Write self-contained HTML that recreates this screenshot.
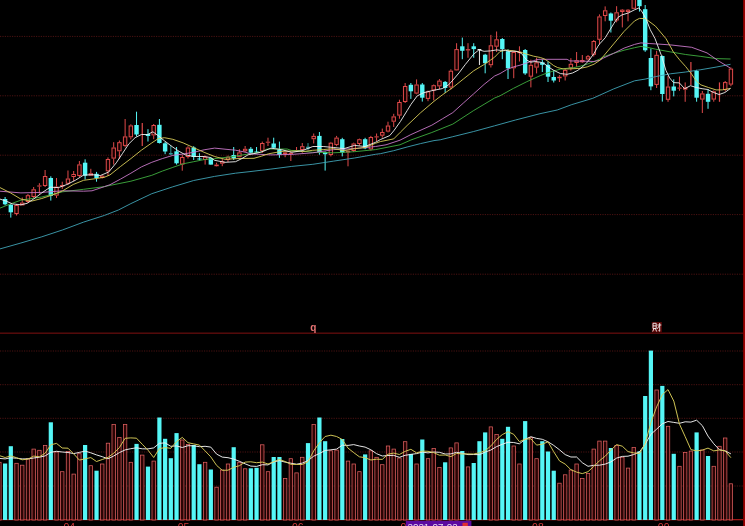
<!DOCTYPE html>
<html><head><meta charset="utf-8"><title>K-line chart</title>
<style>html,body{margin:0;padding:0;background:#000;overflow:hidden}svg{display:block;filter:blur(0.42px)}body{font-family:"Liberation Sans",sans-serif}</style>
</head><body>
<svg width="745" height="526" viewBox="0 0 745 526">
<rect width="745" height="526" fill="#000"/>
<line x1="0" y1="36.4" x2="743" y2="36.4" stroke="#7a1e1e" stroke-width="1" stroke-dasharray="1.2 1.2" opacity="0.62"/>
<line x1="0" y1="95.8" x2="743" y2="95.8" stroke="#7a1e1e" stroke-width="1" stroke-dasharray="1.2 1.2" opacity="0.62"/>
<line x1="0" y1="155.2" x2="743" y2="155.2" stroke="#7a1e1e" stroke-width="1" stroke-dasharray="1.2 1.2" opacity="0.62"/>
<line x1="0" y1="214.6" x2="743" y2="214.6" stroke="#7a1e1e" stroke-width="1" stroke-dasharray="1.2 1.2" opacity="0.62"/>
<line x1="0" y1="274.2" x2="743" y2="274.2" stroke="#7a1e1e" stroke-width="1" stroke-dasharray="1.2 1.2" opacity="0.62"/>
<line x1="0" y1="351" x2="743" y2="351" stroke="#7a1e1e" stroke-width="1" stroke-dasharray="1.2 1.2" opacity="0.62"/>
<line x1="0" y1="384.7" x2="743" y2="384.7" stroke="#7a1e1e" stroke-width="1" stroke-dasharray="1.2 1.2" opacity="0.62"/>
<line x1="0" y1="418.3" x2="743" y2="418.3" stroke="#7a1e1e" stroke-width="1" stroke-dasharray="1.2 1.2" opacity="0.62"/>
<line x1="0" y1="452" x2="743" y2="452" stroke="#7a1e1e" stroke-width="1" stroke-dasharray="1.2 1.2" opacity="0.62"/>
<line x1="0" y1="486" x2="743" y2="486" stroke="#7a1e1e" stroke-width="1" stroke-dasharray="1.2 1.2" opacity="0.62"/>
<rect x="0" y="332.5" width="743" height="1.4" fill="#5c0c0c"/>
<rect x="0" y="519" width="743" height="1.3" fill="#a01818"/>
<rect x="743.2" y="0" width="1.8" height="526" fill="#980000"/>
<rect x="-2.31" y="462.3" width="3.4" height="57.7" fill="#2a0404" stroke="#e06060" stroke-width="0.75"/>
<rect x="3.00" y="463.5" width="4.2" height="56.5" fill="#55f6f6"/>
<rect x="8.71" y="446.2" width="4.2" height="73.8" fill="#55f6f6"/>
<rect x="14.83" y="463.3" width="3.4" height="56.7" fill="#2a0404" stroke="#e06060" stroke-width="0.75"/>
<rect x="20.55" y="465.2" width="3.4" height="54.8" fill="#2a0404" stroke="#e06060" stroke-width="0.75"/>
<rect x="26.26" y="458.7" width="3.4" height="61.3" fill="#2a0404" stroke="#e06060" stroke-width="0.75"/>
<rect x="31.97" y="449.1" width="3.4" height="70.9" fill="#2a0404" stroke="#e06060" stroke-width="0.75"/>
<rect x="37.69" y="450.3" width="3.4" height="69.7" fill="#2a0404" stroke="#e06060" stroke-width="0.75"/>
<rect x="43.40" y="445.5" width="3.4" height="74.5" fill="#2a0404" stroke="#e06060" stroke-width="0.75"/>
<rect x="48.72" y="422.3" width="4.2" height="97.7" fill="#55f6f6"/>
<rect x="54.83" y="452.0" width="3.4" height="68.0" fill="#2a0404" stroke="#e06060" stroke-width="0.75"/>
<rect x="60.55" y="471.7" width="3.4" height="48.3" fill="#2a0404" stroke="#e06060" stroke-width="0.75"/>
<rect x="66.27" y="451.5" width="3.4" height="68.5" fill="#2a0404" stroke="#e06060" stroke-width="0.75"/>
<rect x="71.98" y="474.1" width="3.4" height="45.9" fill="#2a0404" stroke="#e06060" stroke-width="0.75"/>
<rect x="77.69" y="453.7" width="3.4" height="66.3" fill="#2a0404" stroke="#e06060" stroke-width="0.75"/>
<rect x="83.01" y="445.0" width="4.2" height="75.0" fill="#55f6f6"/>
<rect x="89.12" y="465.7" width="3.4" height="54.3" fill="#2a0404" stroke="#e06060" stroke-width="0.75"/>
<rect x="94.44" y="470.7" width="4.2" height="49.3" fill="#55f6f6"/>
<rect x="100.56" y="464.0" width="3.4" height="56.0" fill="#2a0404" stroke="#e06060" stroke-width="0.75"/>
<rect x="106.27" y="443.2" width="3.4" height="76.8" fill="#2a0404" stroke="#e06060" stroke-width="0.75"/>
<rect x="111.98" y="424.5" width="3.4" height="95.5" fill="#2a0404" stroke="#e06060" stroke-width="0.75"/>
<rect x="117.70" y="437.6" width="3.4" height="82.4" fill="#2a0404" stroke="#e06060" stroke-width="0.75"/>
<rect x="123.41" y="424.5" width="3.4" height="95.5" fill="#2a0404" stroke="#e06060" stroke-width="0.75"/>
<rect x="129.13" y="462.3" width="3.4" height="57.7" fill="#2a0404" stroke="#e06060" stroke-width="0.75"/>
<rect x="134.44" y="443.9" width="4.2" height="76.1" fill="#55f6f6"/>
<rect x="140.56" y="455.1" width="3.4" height="64.9" fill="#2a0404" stroke="#e06060" stroke-width="0.75"/>
<rect x="145.88" y="466.6" width="4.2" height="53.4" fill="#55f6f6"/>
<rect x="151.99" y="461.1" width="3.4" height="58.9" fill="#2a0404" stroke="#e06060" stroke-width="0.75"/>
<rect x="157.30" y="417.5" width="4.2" height="102.5" fill="#55f6f6"/>
<rect x="163.02" y="438.8" width="4.2" height="81.2" fill="#55f6f6"/>
<rect x="168.73" y="458.2" width="4.2" height="61.8" fill="#55f6f6"/>
<rect x="174.45" y="433.1" width="4.2" height="86.9" fill="#55f6f6"/>
<rect x="180.56" y="440.0" width="3.4" height="80.0" fill="#2a0404" stroke="#e06060" stroke-width="0.75"/>
<rect x="186.28" y="444.4" width="3.4" height="75.6" fill="#2a0404" stroke="#e06060" stroke-width="0.75"/>
<rect x="191.59" y="445.0" width="4.2" height="75.0" fill="#55f6f6"/>
<rect x="197.31" y="464.2" width="4.2" height="55.8" fill="#55f6f6"/>
<rect x="203.43" y="462.3" width="3.4" height="57.7" fill="#2a0404" stroke="#e06060" stroke-width="0.75"/>
<rect x="208.74" y="469.5" width="4.2" height="50.5" fill="#55f6f6"/>
<rect x="214.85" y="487.2" width="3.4" height="32.8" fill="#2a0404" stroke="#e06060" stroke-width="0.75"/>
<rect x="220.57" y="470.0" width="3.4" height="50.0" fill="#2a0404" stroke="#e06060" stroke-width="0.75"/>
<rect x="226.28" y="464.0" width="3.4" height="56.0" fill="#2a0404" stroke="#e06060" stroke-width="0.75"/>
<rect x="231.60" y="447.2" width="4.2" height="72.8" fill="#55f6f6"/>
<rect x="237.72" y="462.3" width="3.4" height="57.7" fill="#2a0404" stroke="#e06060" stroke-width="0.75"/>
<rect x="243.43" y="468.8" width="3.4" height="51.2" fill="#2a0404" stroke="#e06060" stroke-width="0.75"/>
<rect x="248.74" y="468.3" width="4.2" height="51.7" fill="#55f6f6"/>
<rect x="254.46" y="467.8" width="4.2" height="52.2" fill="#55f6f6"/>
<rect x="260.57" y="444.8" width="3.4" height="75.2" fill="#2a0404" stroke="#e06060" stroke-width="0.75"/>
<rect x="266.29" y="471.7" width="3.4" height="48.3" fill="#2a0404" stroke="#e06060" stroke-width="0.75"/>
<rect x="271.60" y="457.0" width="4.2" height="63.0" fill="#55f6f6"/>
<rect x="277.32" y="457.0" width="4.2" height="63.0" fill="#55f6f6"/>
<rect x="283.44" y="478.4" width="3.4" height="41.6" fill="#2a0404" stroke="#e06060" stroke-width="0.75"/>
<rect x="289.15" y="458.7" width="3.4" height="61.3" fill="#2a0404" stroke="#e06060" stroke-width="0.75"/>
<rect x="294.87" y="472.9" width="3.4" height="47.1" fill="#2a0404" stroke="#e06060" stroke-width="0.75"/>
<rect x="300.58" y="457.3" width="3.4" height="62.7" fill="#2a0404" stroke="#e06060" stroke-width="0.75"/>
<rect x="305.89" y="443.1" width="4.2" height="76.9" fill="#55f6f6"/>
<rect x="312.01" y="424.5" width="3.4" height="95.5" fill="#2a0404" stroke="#e06060" stroke-width="0.75"/>
<rect x="317.32" y="417.5" width="4.2" height="102.5" fill="#55f6f6"/>
<rect x="323.04" y="441.2" width="4.2" height="78.8" fill="#55f6f6"/>
<rect x="329.15" y="450.8" width="3.4" height="69.2" fill="#2a0404" stroke="#e06060" stroke-width="0.75"/>
<rect x="334.87" y="450.1" width="3.4" height="69.9" fill="#2a0404" stroke="#e06060" stroke-width="0.75"/>
<rect x="340.18" y="439.0" width="4.2" height="81.0" fill="#55f6f6"/>
<rect x="346.30" y="461.1" width="3.4" height="58.9" fill="#2a0404" stroke="#e06060" stroke-width="0.75"/>
<rect x="352.01" y="464.0" width="3.4" height="56.0" fill="#2a0404" stroke="#e06060" stroke-width="0.75"/>
<rect x="357.73" y="471.7" width="3.4" height="48.3" fill="#2a0404" stroke="#e06060" stroke-width="0.75"/>
<rect x="363.04" y="454.4" width="4.2" height="65.6" fill="#55f6f6"/>
<rect x="369.16" y="450.8" width="3.4" height="69.2" fill="#2a0404" stroke="#e06060" stroke-width="0.75"/>
<rect x="374.88" y="457.3" width="3.4" height="62.7" fill="#2a0404" stroke="#e06060" stroke-width="0.75"/>
<rect x="380.59" y="464.7" width="3.4" height="55.3" fill="#2a0404" stroke="#e06060" stroke-width="0.75"/>
<rect x="386.31" y="446.0" width="3.4" height="74.0" fill="#2a0404" stroke="#e06060" stroke-width="0.75"/>
<rect x="392.02" y="449.1" width="3.4" height="70.9" fill="#2a0404" stroke="#e06060" stroke-width="0.75"/>
<rect x="397.74" y="458.0" width="3.4" height="62.0" fill="#2a0404" stroke="#e06060" stroke-width="0.75"/>
<rect x="403.45" y="441.7" width="3.4" height="78.3" fill="#2a0404" stroke="#e06060" stroke-width="0.75"/>
<rect x="408.76" y="453.9" width="4.2" height="66.1" fill="#55f6f6"/>
<rect x="414.88" y="464.0" width="3.4" height="56.0" fill="#2a0404" stroke="#e06060" stroke-width="0.75"/>
<rect x="420.19" y="439.5" width="4.2" height="80.5" fill="#55f6f6"/>
<rect x="426.31" y="458.7" width="3.4" height="61.3" fill="#2a0404" stroke="#e06060" stroke-width="0.75"/>
<rect x="432.02" y="448.4" width="3.4" height="71.6" fill="#2a0404" stroke="#e06060" stroke-width="0.75"/>
<rect x="437.74" y="467.6" width="3.4" height="52.4" fill="#2a0404" stroke="#e06060" stroke-width="0.75"/>
<rect x="443.05" y="462.3" width="4.2" height="57.7" fill="#55f6f6"/>
<rect x="449.17" y="447.9" width="3.4" height="72.1" fill="#2a0404" stroke="#e06060" stroke-width="0.75"/>
<rect x="454.88" y="442.9" width="3.4" height="77.1" fill="#2a0404" stroke="#e06060" stroke-width="0.75"/>
<rect x="460.20" y="451.0" width="4.2" height="69.0" fill="#55f6f6"/>
<rect x="466.31" y="466.9" width="3.4" height="53.1" fill="#2a0404" stroke="#e06060" stroke-width="0.75"/>
<rect x="471.63" y="463.0" width="4.2" height="57.0" fill="#55f6f6"/>
<rect x="477.34" y="441.2" width="4.2" height="78.8" fill="#55f6f6"/>
<rect x="483.06" y="432.4" width="4.2" height="87.6" fill="#55f6f6"/>
<rect x="489.18" y="426.9" width="3.4" height="93.1" fill="#2a0404" stroke="#e06060" stroke-width="0.75"/>
<rect x="494.89" y="434.5" width="3.4" height="85.5" fill="#2a0404" stroke="#e06060" stroke-width="0.75"/>
<rect x="500.20" y="438.8" width="4.2" height="81.2" fill="#55f6f6"/>
<rect x="505.92" y="426.8" width="4.2" height="93.2" fill="#55f6f6"/>
<rect x="512.03" y="446.0" width="3.4" height="74.0" fill="#2a0404" stroke="#e06060" stroke-width="0.75"/>
<rect x="517.75" y="464.0" width="3.4" height="56.0" fill="#2a0404" stroke="#e06060" stroke-width="0.75"/>
<rect x="523.06" y="421.1" width="4.2" height="98.9" fill="#55f6f6"/>
<rect x="529.18" y="437.6" width="3.4" height="82.4" fill="#2a0404" stroke="#e06060" stroke-width="0.75"/>
<rect x="534.89" y="458.7" width="3.4" height="61.3" fill="#2a0404" stroke="#e06060" stroke-width="0.75"/>
<rect x="540.21" y="441.2" width="4.2" height="78.8" fill="#55f6f6"/>
<rect x="545.92" y="451.5" width="4.2" height="68.5" fill="#55f6f6"/>
<rect x="551.64" y="470.7" width="4.2" height="49.3" fill="#55f6f6"/>
<rect x="557.75" y="483.2" width="3.4" height="36.8" fill="#2a0404" stroke="#e06060" stroke-width="0.75"/>
<rect x="563.47" y="474.8" width="3.4" height="45.2" fill="#2a0404" stroke="#e06060" stroke-width="0.75"/>
<rect x="569.18" y="470.0" width="3.4" height="50.0" fill="#2a0404" stroke="#e06060" stroke-width="0.75"/>
<rect x="574.90" y="464.0" width="3.4" height="56.0" fill="#2a0404" stroke="#e06060" stroke-width="0.75"/>
<rect x="580.61" y="478.4" width="3.4" height="41.6" fill="#2a0404" stroke="#e06060" stroke-width="0.75"/>
<rect x="586.33" y="473.6" width="3.4" height="46.4" fill="#2a0404" stroke="#e06060" stroke-width="0.75"/>
<rect x="592.04" y="449.1" width="3.4" height="70.9" fill="#2a0404" stroke="#e06060" stroke-width="0.75"/>
<rect x="597.76" y="441.1" width="3.4" height="78.9" fill="#2a0404" stroke="#e06060" stroke-width="0.75"/>
<rect x="603.47" y="441.1" width="3.4" height="78.9" fill="#2a0404" stroke="#e06060" stroke-width="0.75"/>
<rect x="608.79" y="448.0" width="4.2" height="72.0" fill="#55f6f6"/>
<rect x="614.90" y="445.5" width="3.4" height="74.5" fill="#2a0404" stroke="#e06060" stroke-width="0.75"/>
<rect x="620.62" y="457.2" width="3.4" height="62.8" fill="#2a0404" stroke="#e06060" stroke-width="0.75"/>
<rect x="626.33" y="468.1" width="3.4" height="51.9" fill="#2a0404" stroke="#e06060" stroke-width="0.75"/>
<rect x="632.05" y="447.5" width="3.4" height="72.5" fill="#2a0404" stroke="#e06060" stroke-width="0.75"/>
<rect x="637.36" y="451.3" width="4.2" height="68.7" fill="#55f6f6"/>
<rect x="643.08" y="396.0" width="4.2" height="124.0" fill="#55f6f6"/>
<rect x="648.79" y="350.6" width="4.2" height="169.4" fill="#55f6f6"/>
<rect x="654.91" y="390.0" width="3.4" height="130.0" fill="#2a0404" stroke="#e06060" stroke-width="0.75"/>
<rect x="660.22" y="385.9" width="4.2" height="134.1" fill="#55f6f6"/>
<rect x="666.34" y="426.3" width="3.4" height="93.7" fill="#2a0404" stroke="#e06060" stroke-width="0.75"/>
<rect x="671.65" y="453.8" width="4.2" height="66.2" fill="#55f6f6"/>
<rect x="677.77" y="466.3" width="3.4" height="53.7" fill="#2a0404" stroke="#e06060" stroke-width="0.75"/>
<rect x="683.48" y="452.5" width="3.4" height="67.5" fill="#2a0404" stroke="#e06060" stroke-width="0.75"/>
<rect x="689.20" y="451.1" width="3.4" height="68.9" fill="#2a0404" stroke="#e06060" stroke-width="0.75"/>
<rect x="694.51" y="432.4" width="4.2" height="87.6" fill="#55f6f6"/>
<rect x="700.63" y="450.0" width="3.4" height="70.0" fill="#2a0404" stroke="#e06060" stroke-width="0.75"/>
<rect x="705.94" y="456.0" width="4.2" height="64.0" fill="#55f6f6"/>
<rect x="712.06" y="466.3" width="3.4" height="53.7" fill="#2a0404" stroke="#e06060" stroke-width="0.75"/>
<rect x="717.77" y="446.3" width="3.4" height="73.7" fill="#2a0404" stroke="#e06060" stroke-width="0.75"/>
<rect x="723.49" y="438.0" width="3.4" height="82.0" fill="#2a0404" stroke="#e06060" stroke-width="0.75"/>
<rect x="729.20" y="483.8" width="3.4" height="36.2" fill="#2a0404" stroke="#e06060" stroke-width="0.75"/>
<polyline points="-0.6,458.4 5.1,458.9 10.8,457.8 16.5,458.2 22.2,458.9 28.0,458.9 33.7,458.0 39.4,457.2 45.1,455.9 50.8,452.3 56.5,451.3 62.2,452.0 68.0,452.5 73.7,453.6 79.4,452.4 85.1,451.1 90.8,452.8 96.5,454.9 102.3,456.7 108.0,458.8 113.7,456.0 119.4,452.6 125.1,449.9 130.8,448.7 136.5,447.8 142.3,448.8 148.0,448.9 153.7,447.9 159.4,443.3 165.1,442.9 170.8,446.3 176.5,445.9 182.3,447.5 188.0,445.7 193.7,445.8 199.4,446.7 205.1,446.3 210.8,447.1 216.6,454.1 222.3,457.1 228.0,457.7 233.7,459.1 239.4,461.3 245.1,463.8 250.8,466.1 256.6,466.4 262.3,464.7 268.0,464.9 273.7,461.9 279.4,460.6 285.1,462.1 290.8,463.2 296.6,464.2 302.3,463.1 308.0,460.6 313.7,456.2 319.4,453.5 325.1,450.5 330.9,449.8 336.6,449.1 342.3,445.2 348.0,445.4 353.7,444.6 359.4,446.0 365.1,447.1 370.9,449.8 376.6,453.7 382.3,456.0 388.0,455.5 393.7,455.4 399.4,457.3 405.1,455.3 410.9,454.4 416.6,453.6 422.3,452.1 428.0,452.9 433.7,452.0 439.4,452.3 445.2,454.0 450.9,453.9 456.6,452.3 462.3,453.3 468.0,454.6 473.7,454.5 479.4,454.7 485.2,452.1 490.9,450.0 496.6,446.6 502.3,444.3 508.0,442.2 513.7,442.5 519.4,443.8 525.2,439.3 530.9,436.7 536.6,438.4 542.3,439.3 548.0,441.8 553.7,445.4 559.5,449.8 565.2,454.6 570.9,457.0 576.6,457.0 582.3,462.7 588.0,466.3 593.7,465.3 599.5,465.2 605.2,464.1 610.9,461.9 616.6,458.1 622.3,456.4 628.0,456.2 633.8,454.5 639.5,451.9 645.2,444.1 650.9,434.3 656.6,429.2 662.3,423.8 668.0,421.5 673.8,422.4 679.5,423.3 685.2,421.8 690.9,422.1 696.6,420.2 702.3,425.6 708.0,436.1 713.8,443.8 719.5,449.8 725.2,450.9 730.9,453.9" fill="none" stroke="#f0f0f0" stroke-width="0.95" stroke-linejoin="round" opacity="1"/>
<polyline points="-0.6,455.6 5.1,457.5 10.8,455.9 16.5,457.7 22.2,459.8 28.0,459.1 33.7,456.1 39.4,456.8 45.1,453.3 50.8,444.8 56.5,443.4 62.2,448.0 68.0,448.2 73.7,453.9 79.4,460.1 85.1,458.8 90.8,457.6 96.5,461.5 102.3,459.5 108.0,457.4 113.7,453.2 119.4,447.6 125.1,438.3 130.8,437.9 136.5,438.2 142.3,444.3 148.0,450.2 153.7,457.5 159.4,448.6 165.1,447.6 170.8,448.3 176.5,441.6 182.3,437.4 188.0,442.7 193.7,443.9 199.4,445.1 205.1,450.9 210.8,456.9 216.6,465.4 222.3,470.3 228.0,470.2 233.7,467.3 239.4,465.7 245.1,462.1 250.8,461.8 256.6,462.7 262.3,462.1 268.0,464.0 273.7,461.7 279.4,459.5 285.1,461.5 290.8,464.3 296.6,464.5 302.3,464.5 308.0,461.7 313.7,450.9 319.4,442.8 325.1,436.5 330.9,435.2 336.6,436.5 342.3,439.5 348.0,448.1 353.7,452.6 359.4,456.8 365.1,457.7 370.9,460.0 376.6,459.2 382.3,459.4 388.0,454.2 393.7,453.1 399.4,454.5 405.1,451.4 410.9,449.3 416.6,452.9 422.3,451.1 428.0,451.3 433.7,452.6 439.4,455.2 445.2,455.0 450.9,456.6 456.6,453.4 462.3,454.0 468.0,453.9 473.7,454.0 479.4,452.8 485.2,450.8 490.9,445.9 496.6,439.4 502.3,434.6 508.0,431.7 513.7,434.3 519.4,441.7 525.2,439.1 530.9,438.8 536.6,445.1 542.3,444.2 548.0,441.8 553.7,451.7 559.5,460.9 565.2,464.1 570.9,469.7 576.6,472.1 582.3,473.6 588.0,471.7 593.7,466.5 599.5,460.7 605.2,456.2 610.9,450.2 616.6,444.6 622.3,446.2 628.0,451.6 633.8,452.9 639.5,453.5 645.2,443.7 650.9,422.5 656.6,406.9 662.3,394.7 668.0,389.6 673.8,401.1 679.5,424.2 685.2,436.7 690.9,449.6 696.6,450.9 702.3,450.1 708.0,448.1 713.8,450.9 719.5,449.9 725.2,450.9 730.9,457.7" fill="none" stroke="#d8cc58" stroke-width="0.95" stroke-linejoin="round" opacity="1"/>
<line x1="5.10" y1="197" x2="5.10" y2="205.4" stroke="#55f6f6" stroke-width="1"/>
<rect x="2.90" y="199" width="4.4" height="5.3" fill="#55f6f6"/>
<line x1="10.81" y1="203.8" x2="10.81" y2="217.6" stroke="#55f6f6" stroke-width="1"/>
<rect x="8.61" y="204.7" width="4.4" height="7.6" fill="#55f6f6"/>
<line x1="16.53" y1="204" x2="16.53" y2="205" stroke="#e04a4a" stroke-width="1"/>
<line x1="16.53" y1="214" x2="16.53" y2="215.5" stroke="#e04a4a" stroke-width="1"/>
<rect x="14.83" y="205.5" width="3.4" height="8.0" fill="#160000" stroke="#e04a4a" stroke-width="1"/>
<line x1="22.25" y1="197.5" x2="22.25" y2="202.6" stroke="#e04a4a" stroke-width="1"/>
<line x1="22.25" y1="205.4" x2="22.25" y2="205.4" stroke="#e04a4a" stroke-width="1"/>
<rect x="20.55" y="203.1" width="3.4" height="1.8" fill="#160000" stroke="#e04a4a" stroke-width="1"/>
<line x1="27.96" y1="194" x2="27.96" y2="195.2" stroke="#e04a4a" stroke-width="1"/>
<line x1="27.96" y1="202" x2="27.96" y2="203" stroke="#e04a4a" stroke-width="1"/>
<rect x="26.26" y="195.7" width="3.4" height="5.8" fill="#160000" stroke="#e04a4a" stroke-width="1"/>
<line x1="33.67" y1="187" x2="33.67" y2="189.3" stroke="#e04a4a" stroke-width="1"/>
<line x1="33.67" y1="197" x2="33.67" y2="198" stroke="#e04a4a" stroke-width="1"/>
<rect x="31.97" y="189.8" width="3.4" height="6.7" fill="#160000" stroke="#e04a4a" stroke-width="1"/>
<line x1="39.39" y1="183.2" x2="39.39" y2="185.5" stroke="#e04a4a" stroke-width="1"/>
<line x1="39.39" y1="186.5" x2="39.39" y2="193.7" stroke="#e04a4a" stroke-width="1"/>
<line x1="37.19" y1="186.0" x2="41.59" y2="186.0" stroke="#e04a4a" stroke-width="1.0"/>
<line x1="45.10" y1="170" x2="45.10" y2="176" stroke="#e04a4a" stroke-width="1"/>
<line x1="45.10" y1="186" x2="45.10" y2="187" stroke="#e04a4a" stroke-width="1"/>
<rect x="43.40" y="176.5" width="3.4" height="9.0" fill="#160000" stroke="#e04a4a" stroke-width="1"/>
<line x1="50.82" y1="176.3" x2="50.82" y2="200.6" stroke="#55f6f6" stroke-width="1"/>
<rect x="48.62" y="178" width="4.4" height="17.8" fill="#55f6f6"/>
<line x1="56.53" y1="178" x2="56.53" y2="186.6" stroke="#e04a4a" stroke-width="1"/>
<line x1="56.53" y1="195.6" x2="56.53" y2="198" stroke="#e04a4a" stroke-width="1"/>
<rect x="54.83" y="187.1" width="3.4" height="8.0" fill="#160000" stroke="#e04a4a" stroke-width="1"/>
<line x1="62.25" y1="181.7" x2="62.25" y2="185" stroke="#e04a4a" stroke-width="1"/>
<line x1="62.25" y1="186.5" x2="62.25" y2="189" stroke="#e04a4a" stroke-width="1"/>
<line x1="60.05" y1="185.8" x2="64.45" y2="185.8" stroke="#e04a4a" stroke-width="1.5"/>
<line x1="67.97" y1="170.5" x2="67.97" y2="178.5" stroke="#e04a4a" stroke-width="1"/>
<line x1="67.97" y1="183.8" x2="67.97" y2="185" stroke="#e04a4a" stroke-width="1"/>
<rect x="66.27" y="179.0" width="3.4" height="4.3" fill="#160000" stroke="#e04a4a" stroke-width="1"/>
<line x1="73.68" y1="171" x2="73.68" y2="174" stroke="#e04a4a" stroke-width="1"/>
<line x1="73.68" y1="177" x2="73.68" y2="181" stroke="#e04a4a" stroke-width="1"/>
<rect x="71.98" y="174.5" width="3.4" height="2.0" fill="#160000" stroke="#e04a4a" stroke-width="1"/>
<line x1="79.39" y1="161" x2="79.39" y2="164.4" stroke="#e04a4a" stroke-width="1"/>
<line x1="79.39" y1="176" x2="79.39" y2="177" stroke="#e04a4a" stroke-width="1"/>
<rect x="77.69" y="164.9" width="3.4" height="10.6" fill="#160000" stroke="#e04a4a" stroke-width="1"/>
<line x1="85.11" y1="159.3" x2="85.11" y2="179.5" stroke="#55f6f6" stroke-width="1"/>
<rect x="82.91" y="162.7" width="4.4" height="13.0" fill="#55f6f6"/>
<line x1="90.83" y1="168.8" x2="90.83" y2="173.2" stroke="#e04a4a" stroke-width="1"/>
<line x1="90.83" y1="175.7" x2="90.83" y2="175.7" stroke="#e04a4a" stroke-width="1"/>
<rect x="89.12" y="173.7" width="3.4" height="1.5" fill="#160000" stroke="#e04a4a" stroke-width="1"/>
<line x1="96.54" y1="171.9" x2="96.54" y2="181.7" stroke="#55f6f6" stroke-width="1"/>
<rect x="94.34" y="173.8" width="4.4" height="4.2" fill="#55f6f6"/>
<line x1="102.26" y1="175" x2="102.26" y2="175.7" stroke="#e04a4a" stroke-width="1"/>
<line x1="102.26" y1="178" x2="102.26" y2="178.5" stroke="#e04a4a" stroke-width="1"/>
<rect x="100.56" y="176.2" width="3.4" height="1.3" fill="#160000" stroke="#e04a4a" stroke-width="1"/>
<line x1="107.97" y1="157.4" x2="107.97" y2="159" stroke="#e04a4a" stroke-width="1"/>
<line x1="107.97" y1="171.3" x2="107.97" y2="176" stroke="#e04a4a" stroke-width="1"/>
<rect x="106.27" y="159.5" width="3.4" height="11.3" fill="#160000" stroke="#e04a4a" stroke-width="1"/>
<line x1="113.69" y1="142.2" x2="113.69" y2="147.5" stroke="#e04a4a" stroke-width="1"/>
<line x1="113.69" y1="158.6" x2="113.69" y2="164.6" stroke="#e04a4a" stroke-width="1"/>
<rect x="111.98" y="148.0" width="3.4" height="10.1" fill="#160000" stroke="#e04a4a" stroke-width="1"/>
<line x1="119.40" y1="140.5" x2="119.40" y2="142.2" stroke="#e04a4a" stroke-width="1"/>
<line x1="119.40" y1="151.3" x2="119.40" y2="159" stroke="#e04a4a" stroke-width="1"/>
<rect x="117.70" y="142.7" width="3.4" height="8.1" fill="#160000" stroke="#e04a4a" stroke-width="1"/>
<line x1="125.11" y1="119" x2="125.11" y2="136.4" stroke="#e04a4a" stroke-width="1"/>
<line x1="125.11" y1="145.9" x2="125.11" y2="147.3" stroke="#e04a4a" stroke-width="1"/>
<rect x="123.41" y="136.9" width="3.4" height="8.5" fill="#160000" stroke="#e04a4a" stroke-width="1"/>
<line x1="130.83" y1="124.3" x2="130.83" y2="125.4" stroke="#e04a4a" stroke-width="1"/>
<line x1="130.83" y1="137.3" x2="130.83" y2="139.4" stroke="#e04a4a" stroke-width="1"/>
<rect x="129.13" y="125.9" width="3.4" height="10.9" fill="#160000" stroke="#e04a4a" stroke-width="1"/>
<line x1="136.54" y1="111.7" x2="136.54" y2="136.4" stroke="#55f6f6" stroke-width="1"/>
<rect x="134.34" y="125" width="4.4" height="9.5" fill="#55f6f6"/>
<line x1="142.26" y1="123" x2="142.26" y2="145.9" stroke="#e04a4a" stroke-width="1.2"/>
<line x1="147.97" y1="129.2" x2="147.97" y2="141.5" stroke="#55f6f6" stroke-width="1"/>
<rect x="145.78" y="134" width="4.4" height="2.0" fill="#55f6f6"/>
<line x1="153.69" y1="124" x2="153.69" y2="125" stroke="#e04a4a" stroke-width="1"/>
<line x1="153.69" y1="135.4" x2="153.69" y2="139.2" stroke="#e04a4a" stroke-width="1"/>
<rect x="151.99" y="125.5" width="3.4" height="9.4" fill="#160000" stroke="#e04a4a" stroke-width="1"/>
<line x1="159.40" y1="119" x2="159.40" y2="143.5" stroke="#55f6f6" stroke-width="1"/>
<rect x="157.20" y="124.8" width="4.4" height="18.2" fill="#55f6f6"/>
<line x1="165.12" y1="142" x2="165.12" y2="154.2" stroke="#55f6f6" stroke-width="1"/>
<rect x="162.92" y="143.3" width="4.4" height="8.2" fill="#55f6f6"/>
<line x1="170.83" y1="145.6" x2="170.83" y2="155" stroke="#2f9a9a" stroke-width="1"/>
<rect x="168.93" y="153" width="3.8" height="1.5" fill="#2f9a9a"/>
<line x1="176.55" y1="147" x2="176.55" y2="164.6" stroke="#55f6f6" stroke-width="1"/>
<rect x="174.35" y="151.3" width="4.4" height="12.0" fill="#55f6f6"/>
<line x1="182.26" y1="155" x2="182.26" y2="157" stroke="#e04a4a" stroke-width="1"/>
<line x1="182.26" y1="164.6" x2="182.26" y2="170.7" stroke="#e04a4a" stroke-width="1"/>
<rect x="180.56" y="157.5" width="3.4" height="6.6" fill="#160000" stroke="#e04a4a" stroke-width="1"/>
<line x1="187.98" y1="146.2" x2="187.98" y2="147.5" stroke="#e04a4a" stroke-width="1"/>
<line x1="187.98" y1="157" x2="187.98" y2="158.5" stroke="#e04a4a" stroke-width="1"/>
<rect x="186.28" y="148.0" width="3.4" height="8.5" fill="#160000" stroke="#e04a4a" stroke-width="1"/>
<line x1="193.69" y1="146.2" x2="193.69" y2="160" stroke="#55f6f6" stroke-width="1"/>
<rect x="191.50" y="147.5" width="4.4" height="9.5" fill="#55f6f6"/>
<line x1="199.41" y1="153.2" x2="199.41" y2="160.5" stroke="#55f6f6" stroke-width="1"/>
<rect x="197.21" y="158.5" width="4.4" height="1.0" fill="#55f6f6"/>
<line x1="205.12" y1="155.5" x2="205.12" y2="156.7" stroke="#e04a4a" stroke-width="1"/>
<line x1="205.12" y1="160" x2="205.12" y2="164.6" stroke="#e04a4a" stroke-width="1"/>
<rect x="203.43" y="157.2" width="3.4" height="2.3" fill="#160000" stroke="#e04a4a" stroke-width="1"/>
<line x1="210.84" y1="157" x2="210.84" y2="164.6" stroke="#55f6f6" stroke-width="1"/>
<rect x="208.64" y="158" width="4.4" height="6.6" fill="#55f6f6"/>
<line x1="216.55" y1="162.7" x2="216.55" y2="164.6" stroke="#e04a4a" stroke-width="1"/>
<line x1="216.55" y1="166.2" x2="216.55" y2="166.5" stroke="#e04a4a" stroke-width="1"/>
<line x1="214.35" y1="165.4" x2="218.75" y2="165.4" stroke="#e04a4a" stroke-width="1.6"/>
<line x1="222.27" y1="159" x2="222.27" y2="161.2" stroke="#e04a4a" stroke-width="1"/>
<line x1="222.27" y1="163.7" x2="222.27" y2="166.2" stroke="#e04a4a" stroke-width="1"/>
<rect x="220.57" y="161.7" width="3.4" height="1.5" fill="#160000" stroke="#e04a4a" stroke-width="1"/>
<line x1="227.98" y1="155.6" x2="227.98" y2="156.7" stroke="#e04a4a" stroke-width="1"/>
<line x1="227.98" y1="160" x2="227.98" y2="162" stroke="#e04a4a" stroke-width="1"/>
<rect x="226.28" y="157.2" width="3.4" height="2.3" fill="#160000" stroke="#e04a4a" stroke-width="1"/>
<line x1="233.70" y1="147" x2="233.70" y2="160" stroke="#55f6f6" stroke-width="1"/>
<rect x="231.50" y="155" width="4.4" height="3.3" fill="#55f6f6"/>
<line x1="239.41" y1="149.2" x2="239.41" y2="152.4" stroke="#e04a4a" stroke-width="1"/>
<line x1="239.41" y1="157.2" x2="239.41" y2="157.2" stroke="#e04a4a" stroke-width="1"/>
<rect x="237.72" y="152.9" width="3.4" height="3.8" fill="#160000" stroke="#e04a4a" stroke-width="1"/>
<line x1="245.13" y1="146" x2="245.13" y2="148.8" stroke="#e04a4a" stroke-width="1"/>
<line x1="245.13" y1="151.3" x2="245.13" y2="152.4" stroke="#e04a4a" stroke-width="1"/>
<rect x="243.43" y="149.3" width="3.4" height="1.5" fill="#160000" stroke="#e04a4a" stroke-width="1"/>
<line x1="250.84" y1="147" x2="250.84" y2="153.2" stroke="#55f6f6" stroke-width="1"/>
<rect x="248.64" y="148.8" width="4.4" height="3.9" fill="#55f6f6"/>
<line x1="256.56" y1="147" x2="256.56" y2="152.7" stroke="#55f6f6" stroke-width="1"/>
<rect x="254.36" y="151.5" width="4.4" height="1.0" fill="#55f6f6"/>
<line x1="262.27" y1="141.6" x2="262.27" y2="143" stroke="#e04a4a" stroke-width="1"/>
<line x1="262.27" y1="151.3" x2="262.27" y2="153" stroke="#e04a4a" stroke-width="1"/>
<rect x="260.57" y="143.5" width="3.4" height="7.3" fill="#160000" stroke="#e04a4a" stroke-width="1"/>
<line x1="267.99" y1="137.7" x2="267.99" y2="141.7" stroke="#e04a4a" stroke-width="1"/>
<line x1="267.99" y1="142.7" x2="267.99" y2="146" stroke="#e04a4a" stroke-width="1"/>
<line x1="265.79" y1="142.2" x2="270.19" y2="142.2" stroke="#e04a4a" stroke-width="1.0"/>
<line x1="273.70" y1="137.7" x2="273.70" y2="148.8" stroke="#55f6f6" stroke-width="1"/>
<rect x="271.50" y="143.5" width="4.4" height="4.3" fill="#55f6f6"/>
<line x1="279.42" y1="141.6" x2="279.42" y2="157.8" stroke="#55f6f6" stroke-width="1"/>
<rect x="277.22" y="149.5" width="4.4" height="5.4" fill="#55f6f6"/>
<line x1="285.13" y1="151.9" x2="285.13" y2="152.4" stroke="#e04a4a" stroke-width="1"/>
<line x1="285.13" y1="154" x2="285.13" y2="157.2" stroke="#e04a4a" stroke-width="1"/>
<line x1="282.94" y1="153.2" x2="287.33" y2="153.2" stroke="#e04a4a" stroke-width="1.6"/>
<line x1="290.85" y1="151.9" x2="290.85" y2="153.1" stroke="#e04a4a" stroke-width="1"/>
<line x1="290.85" y1="154.2" x2="290.85" y2="161" stroke="#e04a4a" stroke-width="1"/>
<line x1="288.65" y1="153.6" x2="293.05" y2="153.6" stroke="#e04a4a" stroke-width="1.1"/>
<line x1="296.56" y1="147" x2="296.56" y2="150.2" stroke="#e04a4a" stroke-width="1"/>
<line x1="296.56" y1="151" x2="296.56" y2="151.9" stroke="#e04a4a" stroke-width="1"/>
<line x1="294.37" y1="150.6" x2="298.76" y2="150.6" stroke="#e04a4a" stroke-width="1.0"/>
<line x1="302.28" y1="143" x2="302.28" y2="146.2" stroke="#e04a4a" stroke-width="1"/>
<line x1="302.28" y1="150" x2="302.28" y2="152.6" stroke="#e04a4a" stroke-width="1"/>
<rect x="300.58" y="146.7" width="3.4" height="2.8" fill="#160000" stroke="#e04a4a" stroke-width="1"/>
<line x1="308.00" y1="143.1" x2="308.00" y2="150.4" stroke="#2f9a9a" stroke-width="1"/>
<rect x="306.10" y="146.7" width="3.8" height="2.1" fill="#2f9a9a"/>
<line x1="313.71" y1="133.5" x2="313.71" y2="135.9" stroke="#e04a4a" stroke-width="1"/>
<line x1="313.71" y1="139.2" x2="313.71" y2="143.5" stroke="#e04a4a" stroke-width="1"/>
<rect x="312.01" y="136.4" width="3.4" height="2.3" fill="#160000" stroke="#e04a4a" stroke-width="1"/>
<line x1="319.42" y1="132" x2="319.42" y2="154.7" stroke="#55f6f6" stroke-width="1"/>
<rect x="317.22" y="135.9" width="4.4" height="16.1" fill="#55f6f6"/>
<line x1="325.14" y1="151.5" x2="325.14" y2="170.6" stroke="#55f6f6" stroke-width="1"/>
<rect x="322.94" y="152" width="4.4" height="2.2" fill="#55f6f6"/>
<line x1="330.85" y1="141.9" x2="330.85" y2="142.7" stroke="#e04a4a" stroke-width="1"/>
<line x1="330.85" y1="155" x2="330.85" y2="156.4" stroke="#e04a4a" stroke-width="1"/>
<rect x="329.15" y="143.2" width="3.4" height="11.3" fill="#160000" stroke="#e04a4a" stroke-width="1"/>
<line x1="336.57" y1="135.9" x2="336.57" y2="137.6" stroke="#e04a4a" stroke-width="1"/>
<line x1="336.57" y1="145.1" x2="336.57" y2="146.2" stroke="#e04a4a" stroke-width="1"/>
<rect x="334.87" y="138.1" width="3.4" height="6.5" fill="#160000" stroke="#e04a4a" stroke-width="1"/>
<line x1="342.28" y1="137.8" x2="342.28" y2="156.4" stroke="#55f6f6" stroke-width="1"/>
<rect x="340.08" y="139.2" width="4.4" height="13.4" fill="#55f6f6"/>
<line x1="348.00" y1="150.7" x2="348.00" y2="150.7" stroke="#e04a4a" stroke-width="1"/>
<line x1="348.00" y1="152.5" x2="348.00" y2="166.3" stroke="#e04a4a" stroke-width="1"/>
<line x1="345.80" y1="151.6" x2="350.20" y2="151.6" stroke="#e04a4a" stroke-width="1.8"/>
<line x1="353.71" y1="142.7" x2="353.71" y2="143.5" stroke="#e04a4a" stroke-width="1"/>
<line x1="353.71" y1="151" x2="353.71" y2="152" stroke="#e04a4a" stroke-width="1"/>
<rect x="352.01" y="144.0" width="3.4" height="6.5" fill="#160000" stroke="#e04a4a" stroke-width="1"/>
<line x1="359.43" y1="138.6" x2="359.43" y2="139.2" stroke="#e04a4a" stroke-width="1"/>
<line x1="359.43" y1="144" x2="359.43" y2="145.6" stroke="#e04a4a" stroke-width="1"/>
<rect x="357.73" y="139.7" width="3.4" height="3.8" fill="#160000" stroke="#e04a4a" stroke-width="1"/>
<line x1="365.14" y1="137.8" x2="365.14" y2="149.2" stroke="#55f6f6" stroke-width="1"/>
<rect x="362.94" y="139.2" width="4.4" height="9.1" fill="#55f6f6"/>
<line x1="370.86" y1="135.9" x2="370.86" y2="137" stroke="#e04a4a" stroke-width="1"/>
<line x1="370.86" y1="149.4" x2="370.86" y2="150.5" stroke="#e04a4a" stroke-width="1"/>
<rect x="369.16" y="137.5" width="3.4" height="11.4" fill="#160000" stroke="#e04a4a" stroke-width="1"/>
<line x1="376.57" y1="133.5" x2="376.57" y2="136.5" stroke="#e04a4a" stroke-width="1"/>
<line x1="376.57" y1="137.3" x2="376.57" y2="141" stroke="#e04a4a" stroke-width="1"/>
<line x1="374.38" y1="136.9" x2="378.77" y2="136.9" stroke="#e04a4a" stroke-width="1.0"/>
<line x1="382.29" y1="128.6" x2="382.29" y2="132" stroke="#e04a4a" stroke-width="1"/>
<line x1="382.29" y1="135.7" x2="382.29" y2="137.7" stroke="#e04a4a" stroke-width="1"/>
<rect x="380.59" y="132.5" width="3.4" height="2.7" fill="#160000" stroke="#e04a4a" stroke-width="1"/>
<line x1="388.00" y1="121.7" x2="388.00" y2="125.5" stroke="#e04a4a" stroke-width="1"/>
<line x1="388.00" y1="131.6" x2="388.00" y2="132.4" stroke="#e04a4a" stroke-width="1"/>
<rect x="386.31" y="126.0" width="3.4" height="5.1" fill="#160000" stroke="#e04a4a" stroke-width="1"/>
<line x1="393.72" y1="113.8" x2="393.72" y2="116.4" stroke="#e04a4a" stroke-width="1"/>
<line x1="393.72" y1="121.7" x2="393.72" y2="127" stroke="#e04a4a" stroke-width="1"/>
<rect x="392.02" y="116.9" width="3.4" height="4.3" fill="#160000" stroke="#e04a4a" stroke-width="1"/>
<line x1="399.44" y1="99.7" x2="399.44" y2="102" stroke="#e04a4a" stroke-width="1"/>
<line x1="399.44" y1="115.6" x2="399.44" y2="118.7" stroke="#e04a4a" stroke-width="1"/>
<rect x="397.74" y="102.5" width="3.4" height="12.6" fill="#160000" stroke="#e04a4a" stroke-width="1"/>
<line x1="405.15" y1="83" x2="405.15" y2="86" stroke="#e04a4a" stroke-width="1"/>
<line x1="405.15" y1="102" x2="405.15" y2="103" stroke="#e04a4a" stroke-width="1"/>
<rect x="403.45" y="86.5" width="3.4" height="15.0" fill="#160000" stroke="#e04a4a" stroke-width="1"/>
<line x1="410.87" y1="83" x2="410.87" y2="98.9" stroke="#55f6f6" stroke-width="1"/>
<rect x="408.67" y="84.8" width="4.4" height="6.5" fill="#55f6f6"/>
<line x1="416.58" y1="79.4" x2="416.58" y2="84.5" stroke="#e04a4a" stroke-width="1"/>
<line x1="416.58" y1="93.6" x2="416.58" y2="94.3" stroke="#e04a4a" stroke-width="1"/>
<rect x="414.88" y="85.0" width="3.4" height="8.1" fill="#160000" stroke="#e04a4a" stroke-width="1"/>
<line x1="422.29" y1="83" x2="422.29" y2="101.6" stroke="#55f6f6" stroke-width="1"/>
<rect x="420.09" y="84.5" width="4.4" height="13.2" fill="#55f6f6"/>
<line x1="428.01" y1="90.5" x2="428.01" y2="91.3" stroke="#e04a4a" stroke-width="1"/>
<line x1="428.01" y1="98.9" x2="428.01" y2="101.2" stroke="#e04a4a" stroke-width="1"/>
<rect x="426.31" y="91.8" width="3.4" height="6.6" fill="#160000" stroke="#e04a4a" stroke-width="1"/>
<line x1="433.72" y1="84.5" x2="433.72" y2="85.2" stroke="#e04a4a" stroke-width="1"/>
<line x1="433.72" y1="90.5" x2="433.72" y2="100.4" stroke="#e04a4a" stroke-width="1"/>
<rect x="432.02" y="85.7" width="3.4" height="4.3" fill="#160000" stroke="#e04a4a" stroke-width="1"/>
<line x1="439.44" y1="79.1" x2="439.44" y2="80.6" stroke="#e04a4a" stroke-width="1"/>
<line x1="439.44" y1="86.4" x2="439.44" y2="89" stroke="#e04a4a" stroke-width="1"/>
<rect x="437.74" y="81.1" width="3.4" height="4.8" fill="#160000" stroke="#e04a4a" stroke-width="1"/>
<line x1="445.15" y1="81" x2="445.15" y2="92.8" stroke="#55f6f6" stroke-width="1"/>
<rect x="442.95" y="81.9" width="4.4" height="6.1" fill="#55f6f6"/>
<line x1="450.87" y1="69.3" x2="450.87" y2="70.7" stroke="#e04a4a" stroke-width="1"/>
<line x1="450.87" y1="87.5" x2="450.87" y2="89.5" stroke="#e04a4a" stroke-width="1"/>
<rect x="449.17" y="71.2" width="3.4" height="15.8" fill="#160000" stroke="#e04a4a" stroke-width="1"/>
<line x1="456.58" y1="43.2" x2="456.58" y2="49.1" stroke="#e04a4a" stroke-width="1"/>
<line x1="456.58" y1="70.4" x2="456.58" y2="70.6" stroke="#e04a4a" stroke-width="1"/>
<rect x="454.88" y="49.6" width="3.4" height="20.3" fill="#160000" stroke="#e04a4a" stroke-width="1"/>
<line x1="462.30" y1="37.6" x2="462.30" y2="59.2" stroke="#55f6f6" stroke-width="1"/>
<rect x="460.10" y="46.3" width="4.4" height="4.5" fill="#55f6f6"/>
<line x1="468.01" y1="43.2" x2="468.01" y2="49.1" stroke="#e04a4a" stroke-width="1"/>
<line x1="468.01" y1="50.4" x2="468.01" y2="57.8" stroke="#e04a4a" stroke-width="1"/>
<line x1="465.81" y1="49.8" x2="470.21" y2="49.8" stroke="#e04a4a" stroke-width="1.3"/>
<line x1="473.73" y1="43.2" x2="473.73" y2="57.8" stroke="#55f6f6" stroke-width="1"/>
<rect x="471.53" y="46.3" width="4.4" height="2.8" fill="#55f6f6"/>
<line x1="479.44" y1="49.5" x2="479.44" y2="65" stroke="#e8e8e8" stroke-width="1"/>
<line x1="477.55" y1="49.5" x2="481.34" y2="49.5" stroke="#e8e8e8" stroke-width="1"/>
<line x1="485.16" y1="53.8" x2="485.16" y2="73.3" stroke="#55f6f6" stroke-width="1"/>
<rect x="482.96" y="54.7" width="4.4" height="8.5" fill="#55f6f6"/>
<line x1="490.88" y1="34.9" x2="490.88" y2="45.3" stroke="#e04a4a" stroke-width="1"/>
<line x1="490.88" y1="65.2" x2="490.88" y2="67.5" stroke="#e04a4a" stroke-width="1"/>
<rect x="489.18" y="45.8" width="3.4" height="18.9" fill="#160000" stroke="#e04a4a" stroke-width="1"/>
<line x1="496.59" y1="31.5" x2="496.59" y2="39.3" stroke="#e04a4a" stroke-width="1"/>
<line x1="496.59" y1="46.7" x2="496.59" y2="52" stroke="#e04a4a" stroke-width="1"/>
<rect x="494.89" y="39.8" width="3.4" height="6.4" fill="#160000" stroke="#e04a4a" stroke-width="1"/>
<line x1="502.30" y1="38" x2="502.30" y2="59.2" stroke="#55f6f6" stroke-width="1"/>
<rect x="500.10" y="39" width="4.4" height="10.0" fill="#55f6f6"/>
<line x1="508.02" y1="49.3" x2="508.02" y2="79" stroke="#55f6f6" stroke-width="1"/>
<rect x="505.82" y="51.2" width="4.4" height="17.1" fill="#55f6f6"/>
<line x1="513.74" y1="51" x2="513.74" y2="52" stroke="#e04a4a" stroke-width="1"/>
<line x1="513.74" y1="68.3" x2="513.74" y2="78.2" stroke="#e04a4a" stroke-width="1"/>
<rect x="512.03" y="52.5" width="3.4" height="15.3" fill="#160000" stroke="#e04a4a" stroke-width="1"/>
<line x1="519.45" y1="46.3" x2="519.45" y2="51.6" stroke="#e04a4a" stroke-width="1"/>
<line x1="519.45" y1="53.1" x2="519.45" y2="61.5" stroke="#e04a4a" stroke-width="1"/>
<line x1="517.25" y1="52.4" x2="521.65" y2="52.4" stroke="#e04a4a" stroke-width="1.5"/>
<line x1="525.16" y1="49" x2="525.16" y2="74.9" stroke="#55f6f6" stroke-width="1"/>
<rect x="522.96" y="50" width="4.4" height="23.4" fill="#55f6f6"/>
<line x1="530.88" y1="59.7" x2="530.88" y2="64.8" stroke="#e04a4a" stroke-width="1"/>
<line x1="530.88" y1="76.7" x2="530.88" y2="87.4" stroke="#e04a4a" stroke-width="1"/>
<rect x="529.18" y="65.3" width="3.4" height="10.9" fill="#160000" stroke="#e04a4a" stroke-width="1"/>
<line x1="536.60" y1="57.7" x2="536.60" y2="62.3" stroke="#e04a4a" stroke-width="1"/>
<line x1="536.60" y1="67.6" x2="536.60" y2="73.4" stroke="#e04a4a" stroke-width="1"/>
<rect x="534.89" y="62.8" width="3.4" height="4.3" fill="#160000" stroke="#e04a4a" stroke-width="1"/>
<line x1="542.31" y1="59.7" x2="542.31" y2="72" stroke="#55f6f6" stroke-width="1"/>
<rect x="540.11" y="62.3" width="4.4" height="2.5" fill="#55f6f6"/>
<line x1="548.02" y1="61.5" x2="548.02" y2="82" stroke="#55f6f6" stroke-width="1"/>
<rect x="545.82" y="64.8" width="4.4" height="11.9" fill="#55f6f6"/>
<line x1="553.74" y1="70.3" x2="553.74" y2="82.5" stroke="#55f6f6" stroke-width="1"/>
<rect x="551.54" y="77" width="4.4" height="3.5" fill="#55f6f6"/>
<line x1="559.45" y1="75.2" x2="559.45" y2="76.7" stroke="#e04a4a" stroke-width="1"/>
<line x1="559.45" y1="78.2" x2="559.45" y2="82" stroke="#e04a4a" stroke-width="1"/>
<line x1="557.25" y1="77.5" x2="561.65" y2="77.5" stroke="#e04a4a" stroke-width="1.5"/>
<line x1="565.17" y1="68.4" x2="565.17" y2="69.9" stroke="#e04a4a" stroke-width="1"/>
<line x1="565.17" y1="76.4" x2="565.17" y2="80.5" stroke="#e04a4a" stroke-width="1"/>
<rect x="563.47" y="70.4" width="3.4" height="5.5" fill="#160000" stroke="#e04a4a" stroke-width="1"/>
<line x1="570.88" y1="58.2" x2="570.88" y2="63.8" stroke="#e04a4a" stroke-width="1"/>
<line x1="570.88" y1="68.3" x2="570.88" y2="70.6" stroke="#e04a4a" stroke-width="1"/>
<rect x="569.18" y="64.3" width="3.4" height="3.5" fill="#160000" stroke="#e04a4a" stroke-width="1"/>
<line x1="576.60" y1="52" x2="576.60" y2="60.3" stroke="#e04a4a" stroke-width="1"/>
<line x1="576.60" y1="63" x2="576.60" y2="66.8" stroke="#e04a4a" stroke-width="1"/>
<rect x="574.90" y="60.8" width="3.4" height="1.7" fill="#160000" stroke="#e04a4a" stroke-width="1"/>
<line x1="582.31" y1="55" x2="582.31" y2="60" stroke="#e04a4a" stroke-width="1"/>
<line x1="582.31" y1="62.3" x2="582.31" y2="63" stroke="#e04a4a" stroke-width="1"/>
<rect x="580.61" y="60.5" width="3.4" height="1.3" fill="#160000" stroke="#e04a4a" stroke-width="1"/>
<line x1="588.03" y1="55" x2="588.03" y2="56.2" stroke="#e04a4a" stroke-width="1"/>
<line x1="588.03" y1="59.5" x2="588.03" y2="60.7" stroke="#e04a4a" stroke-width="1"/>
<rect x="586.33" y="56.7" width="3.4" height="2.3" fill="#160000" stroke="#e04a4a" stroke-width="1"/>
<line x1="593.75" y1="40" x2="593.75" y2="41" stroke="#e04a4a" stroke-width="1"/>
<line x1="593.75" y1="54.8" x2="593.75" y2="56.5" stroke="#e04a4a" stroke-width="1"/>
<rect x="592.04" y="41.5" width="3.4" height="12.8" fill="#160000" stroke="#e04a4a" stroke-width="1"/>
<line x1="599.46" y1="14.4" x2="599.46" y2="16.4" stroke="#e04a4a" stroke-width="1"/>
<line x1="599.46" y1="39.8" x2="599.46" y2="44.1" stroke="#e04a4a" stroke-width="1"/>
<rect x="597.76" y="16.9" width="3.4" height="22.4" fill="#160000" stroke="#e04a4a" stroke-width="1"/>
<line x1="605.17" y1="6.4" x2="605.17" y2="10.3" stroke="#e04a4a" stroke-width="1"/>
<line x1="605.17" y1="16" x2="605.17" y2="21.3" stroke="#e04a4a" stroke-width="1"/>
<rect x="603.47" y="10.8" width="3.4" height="4.7" fill="#160000" stroke="#e04a4a" stroke-width="1"/>
<line x1="610.89" y1="12.5" x2="610.89" y2="32.5" stroke="#55f6f6" stroke-width="1"/>
<rect x="608.69" y="13.5" width="4.4" height="7.2" fill="#55f6f6"/>
<line x1="616.61" y1="6.2" x2="616.61" y2="12.3" stroke="#e04a4a" stroke-width="1"/>
<line x1="616.61" y1="20.5" x2="616.61" y2="22.3" stroke="#e04a4a" stroke-width="1"/>
<rect x="614.90" y="12.8" width="3.4" height="7.2" fill="#160000" stroke="#e04a4a" stroke-width="1"/>
<line x1="622.32" y1="9" x2="622.32" y2="9.7" stroke="#e04a4a" stroke-width="1"/>
<line x1="622.32" y1="12" x2="622.32" y2="27.4" stroke="#e04a4a" stroke-width="1"/>
<rect x="620.62" y="10.2" width="3.4" height="1.3" fill="#160000" stroke="#e04a4a" stroke-width="1"/>
<line x1="628.03" y1="9" x2="628.03" y2="9.7" stroke="#e04a4a" stroke-width="1"/>
<line x1="628.03" y1="12" x2="628.03" y2="21.3" stroke="#e04a4a" stroke-width="1"/>
<rect x="626.33" y="10.2" width="3.4" height="1.3" fill="#160000" stroke="#e04a4a" stroke-width="1"/>
<line x1="633.75" y1="-5" x2="633.75" y2="-5" stroke="#e04a4a" stroke-width="1"/>
<line x1="633.75" y1="8.8" x2="633.75" y2="8.8" stroke="#e04a4a" stroke-width="1"/>
<rect x="632.05" y="-4.5" width="3.4" height="12.8" fill="#160000" stroke="#e04a4a" stroke-width="1"/>
<line x1="639.46" y1="-5" x2="639.46" y2="11.6" stroke="#55f6f6" stroke-width="1"/>
<rect x="637.26" y="-5" width="4.4" height="11.2" fill="#55f6f6"/>
<line x1="645.18" y1="5" x2="645.18" y2="51.8" stroke="#55f6f6" stroke-width="1"/>
<rect x="642.98" y="9.2" width="4.4" height="41.1" fill="#55f6f6"/>
<line x1="650.89" y1="48.5" x2="650.89" y2="90.2" stroke="#55f6f6" stroke-width="1"/>
<rect x="648.69" y="58" width="4.4" height="28.4" fill="#55f6f6"/>
<line x1="656.61" y1="50.8" x2="656.61" y2="54.8" stroke="#e04a4a" stroke-width="1"/>
<line x1="656.61" y1="84.9" x2="656.61" y2="88" stroke="#e04a4a" stroke-width="1"/>
<rect x="654.91" y="55.3" width="3.4" height="29.1" fill="#160000" stroke="#e04a4a" stroke-width="1"/>
<line x1="662.32" y1="55.5" x2="662.32" y2="101.6" stroke="#55f6f6" stroke-width="1"/>
<rect x="660.12" y="56" width="4.4" height="38.0" fill="#55f6f6"/>
<line x1="668.04" y1="76" x2="668.04" y2="86.5" stroke="#e04a4a" stroke-width="1"/>
<line x1="668.04" y1="99.8" x2="668.04" y2="101.8" stroke="#e04a4a" stroke-width="1"/>
<rect x="666.34" y="87.0" width="3.4" height="12.3" fill="#160000" stroke="#e04a4a" stroke-width="1"/>
<line x1="673.75" y1="79.3" x2="673.75" y2="96.4" stroke="#55f6f6" stroke-width="1"/>
<rect x="671.55" y="86.5" width="4.4" height="4.2" fill="#55f6f6"/>
<line x1="679.47" y1="76.6" x2="679.47" y2="87.6" stroke="#e04a4a" stroke-width="1"/>
<line x1="679.47" y1="88.6" x2="679.47" y2="90.8" stroke="#e04a4a" stroke-width="1"/>
<line x1="677.27" y1="88.1" x2="681.67" y2="88.1" stroke="#e04a4a" stroke-width="1.0"/>
<line x1="685.18" y1="82.4" x2="685.18" y2="87.4" stroke="#e04a4a" stroke-width="1"/>
<line x1="685.18" y1="89.6" x2="685.18" y2="101.8" stroke="#e04a4a" stroke-width="1"/>
<rect x="683.48" y="87.9" width="3.4" height="1.2" fill="#160000" stroke="#e04a4a" stroke-width="1"/>
<line x1="690.90" y1="62" x2="690.90" y2="85" stroke="#e04a4a" stroke-width="1.2"/>
<line x1="696.62" y1="69.8" x2="696.62" y2="101.7" stroke="#55f6f6" stroke-width="1"/>
<rect x="694.41" y="71" width="4.4" height="26.7" fill="#55f6f6"/>
<line x1="702.33" y1="91" x2="702.33" y2="93.4" stroke="#e04a4a" stroke-width="1"/>
<line x1="702.33" y1="99.6" x2="702.33" y2="113" stroke="#e04a4a" stroke-width="1"/>
<rect x="700.63" y="93.9" width="3.4" height="5.2" fill="#160000" stroke="#e04a4a" stroke-width="1"/>
<line x1="708.04" y1="89" x2="708.04" y2="108.8" stroke="#55f6f6" stroke-width="1"/>
<rect x="705.84" y="93.8" width="4.4" height="8.0" fill="#55f6f6"/>
<line x1="713.76" y1="90.4" x2="713.76" y2="91.3" stroke="#e04a4a" stroke-width="1"/>
<line x1="713.76" y1="99.6" x2="713.76" y2="101.7" stroke="#e04a4a" stroke-width="1"/>
<rect x="712.06" y="91.8" width="3.4" height="7.3" fill="#160000" stroke="#e04a4a" stroke-width="1"/>
<line x1="719.48" y1="82.4" x2="719.48" y2="101.8" stroke="#e04a4a" stroke-width="1.2"/>
<line x1="725.19" y1="81" x2="725.19" y2="82.1" stroke="#e04a4a" stroke-width="1"/>
<line x1="725.19" y1="90" x2="725.19" y2="91.5" stroke="#e04a4a" stroke-width="1"/>
<rect x="723.49" y="82.6" width="3.4" height="6.9" fill="#160000" stroke="#e04a4a" stroke-width="1"/>
<line x1="730.90" y1="67.4" x2="730.90" y2="68.6" stroke="#e04a4a" stroke-width="1"/>
<line x1="730.90" y1="84.6" x2="730.90" y2="86.2" stroke="#e04a4a" stroke-width="1"/>
<rect x="729.20" y="69.1" width="3.4" height="15.0" fill="#160000" stroke="#e04a4a" stroke-width="1"/>
<polyline points="0.0,248.9 20.9,243.0 41.8,236.8 62.7,229.9 83.6,222.1 104.5,215.4 118.4,210.0 130.9,203.6 151.8,193.7 172.8,186.8 193.7,180.5 214.6,176.4 235.5,173.2 250.0,171.6 270.9,169.1 291.8,166.4 312.8,164.3 333.7,161.1 354.6,158.0 375.5,154.3 380.3,153.7 393.7,150.7 407.1,147.0 420.5,143.6 434.0,140.6 440.2,139.8 452.8,136.7 473.7,131.5 494.6,125.8 515.5,120.0 540.0,113.7 557.2,110.0 571.8,104.6 592.8,98.3 613.7,88.9 634.6,80.8 645.1,79.1 655.2,76.7 670.4,73.8 685.7,72.0 700.9,69.7 716.1,67.1 730.5,64.3" fill="none" stroke="#3fa3b5" stroke-width="0.9" stroke-linejoin="round" opacity="1"/>
<polyline points="0.0,208.1 10.5,203.9 20.9,200.2 41.8,197.0 62.7,191.8 83.6,189.3 104.5,186.6 110.0,185.4 130.9,181.2 151.8,175.3 162.3,171.1 172.8,167.4 183.2,163.8 193.7,161.7 204.1,159.6 214.6,158.6 225.0,157.5 235.5,156.1 246.0,154.4 250.0,153.6 255.0,153.0 261.7,151.8 267.0,149.0 287.2,149.0 291.2,150.4 300.0,150.8 312.8,152.3 333.7,152.8 354.6,151.7 375.5,149.6 400.0,144.8 410.9,140.0 431.8,132.5 452.8,124.1 473.7,110.5 484.1,104.3 494.6,98.0 500.0,95.8 513.4,88.4 526.8,81.7 540.3,75.6 547.0,73.0 553.7,70.9 560.4,69.2 567.1,68.3 573.8,67.6 580.5,66.2 587.2,64.2 594.0,61.5 600.0,58.9 603.2,56.9 613.7,53.3 624.1,50.2 634.6,47.7 640.9,46.4 649.2,47.7 655.5,49.2 670.4,51.9 685.7,54.5 700.9,56.4 716.1,58.6 730.5,59.0" fill="none" stroke="#3fae3f" stroke-width="0.9" stroke-linejoin="round" opacity="1"/>
<polyline points="0.0,191.2 20.9,192.9 41.8,192.4 62.7,190.8 83.6,191.2 92.0,190.8 104.5,186.6 110.0,184.7 120.5,179.1 130.9,173.2 141.4,166.9 151.8,162.3 162.3,158.6 172.8,155.4 183.2,154.0 193.7,152.3 204.1,149.8 214.6,148.1 225.0,149.2 235.5,150.2 246.0,152.3 250.0,153.8 270.9,154.9 291.8,154.4 312.8,152.8 333.7,149.6 354.6,148.6 375.5,146.5 386.0,144.8 400.0,140.2 410.9,134.6 431.8,125.2 442.3,118.9 452.8,112.6 463.2,103.2 473.7,93.8 484.1,84.4 494.6,76.0 500.0,73.6 506.7,69.6 513.4,66.9 520.1,65.2 526.8,62.9 533.6,60.6 538.9,59.3 567.1,59.3 569.8,60.9 580.5,61.1 594.0,61.5 600.0,60.2 603.2,58.2 613.7,53.3 624.1,48.1 634.6,44.4 640.9,42.9 649.2,43.5 655.5,43.9 670.4,44.9 691.7,47.3 707.0,52.9 719.1,61.3 730.5,68.2" fill="none" stroke="#c878c8" stroke-width="0.9" stroke-linejoin="round" opacity="1"/>
<polyline points="0.0,187.6 10.5,192.9 20.9,199.1 31.4,201.2 41.8,198.5 52.3,195.0 62.7,190.8 73.2,184.5 83.6,180.3 94.0,178.9 104.5,177.2 110.0,174.9 120.5,166.5 130.9,158.6 141.4,150.2 151.8,142.9 158.1,138.7 164.4,137.7 172.8,139.3 183.2,142.9 193.7,147.7 204.1,152.3 214.6,156.5 225.0,159.3 239.0,158.5 254.0,158.3 261.7,156.1 268.4,153.8 275.1,152.6 281.8,151.4 288.6,151.1 300.0,151.1 302.3,151.7 312.8,150.3 323.2,149.6 333.7,148.6 344.1,150.7 354.6,148.6 365.0,147.5 375.5,143.3 380.3,141.6 393.7,138.9 400.4,132.2 407.1,125.5 420.5,112.8 434.0,101.3 442.3,94.9 452.8,87.5 463.2,79.2 473.7,70.8 484.1,64.5 494.6,57.2 500.0,51.5 506.7,50.1 513.4,50.8 520.1,52.1 526.8,54.2 533.6,56.2 540.3,57.5 544.3,58.9 548.3,61.5 553.7,65.6 557.7,67.6 563.1,68.9 569.8,68.9 580.5,68.3 587.2,66.9 594.0,64.2 600.0,60.2 603.2,56.5 613.7,43.9 624.1,31.4 634.6,20.9 639.4,18.4 645.4,18.6 655.5,26.2 666.0,38.7 673.5,52.2 679.6,59.8 685.7,66.6 691.7,74.2 696.3,81.1 700.9,84.9 708.5,87.5 716.1,89.9 722.2,89.9 730.5,88.4" fill="none" stroke="#d8cc58" stroke-width="0.9" stroke-linejoin="round" opacity="1"/>
<polyline points="0.0,199.1 6.3,201.2 12.5,203.9 20.9,204.8 27.2,203.3 33.5,199.1 41.8,192.9 50.2,187.2 58.5,187.6 66.9,184.5 75.3,180.3 83.6,175.1 92.0,174.7 100.4,175.5 108.7,172.0 116.3,162.8 122.6,153.3 128.8,143.9 135.1,137.7 141.4,134.5 147.7,134.5 152.9,131.8 158.1,135.6 164.4,140.8 172.8,147.1 179.0,151.3 185.3,154.8 193.7,156.5 204.1,156.5 210.4,157.5 214.6,160.3 225.0,162.3 235.5,161.7 241.8,158.6 248.1,154.8 254.0,153.6 260.5,152.3 270.9,148.2 281.4,149.6 291.8,152.3 302.3,150.7 312.8,146.5 323.2,146.5 333.7,147.5 344.1,148.6 354.6,145.4 365.0,146.5 375.5,142.3 380.3,139.6 389.7,135.6 393.7,130.9 400.4,121.5 407.1,110.7 411.0,104.3 417.2,95.9 423.5,92.8 431.8,90.7 442.3,88.6 448.6,84.8 452.8,80.2 459.0,72.9 465.3,64.5 473.7,54.1 478.9,49.9 484.1,51.3 490.4,50.9 496.7,49.9 500.0,50.3 505.4,50.1 509.4,51.5 513.4,51.2 517.4,51.5 521.5,53.5 526.8,60.2 530.9,62.2 534.9,61.5 540.3,62.2 544.3,63.6 548.3,66.9 553.7,70.3 560.4,73.6 567.1,74.3 572.5,73.0 577.9,70.3 583.2,66.2 588.6,60.9 594.0,53.5 598.0,46.1 600.0,43.5 605.3,37.7 610.0,29.8 614.0,23.3 618.0,17.3 622.0,14.9 628.5,12.9 634.2,10.0 639.0,7.9 642.2,12.0 646.2,19.3 650.3,29.8 655.0,38.5 661.3,55.2 665.9,70.4 669.7,78.0 673.5,82.6 679.3,82.9 684.7,88.7 690.5,85.7 696.3,87.5 702.1,88.7 707.7,89.5 713.5,92.5 719.1,94.5 724.9,92.5 730.5,88.4" fill="none" stroke="#f0f0f0" stroke-width="0.9" stroke-linejoin="round" opacity="1"/>
<text x="310.3" y="330.6" font-family="Liberation Sans, sans-serif" font-size="10" font-weight="bold" fill="#e87474">q</text>
<rect x="651.8" y="322" width="10" height="10.4" fill="#5a0606"/>
<g stroke="#f4f4f4" stroke-width="0.9" fill="none"><path d="M653 323.3h3.2v5.2h-3.2zM653 325.9h3.2M654 328.5l-1.3 3M655.4 328.5l1.2 3"/><path d="M657.3 325h4M659.7 323v8.2l-1.2 -.6M659.5 325.6l-2.3 3.2"/></g>
<text x="63.4" y="531.2" font-family="Liberation Sans, sans-serif" font-size="10.5" fill="#d03a3a">04</text>
<text x="177.7" y="531.2" font-family="Liberation Sans, sans-serif" font-size="10.5" fill="#d03a3a">05</text>
<text x="292.0" y="531.2" font-family="Liberation Sans, sans-serif" font-size="10.5" fill="#d03a3a">06</text>
<text x="400.6" y="531.2" font-family="Liberation Sans, sans-serif" font-size="10.5" fill="#d03a3a">07</text>
<text x="532.1" y="531.2" font-family="Liberation Sans, sans-serif" font-size="10.5" fill="#d03a3a">08</text>
<text x="657.8" y="531.2" font-family="Liberation Sans, sans-serif" font-size="10.5" fill="#d03a3a">09</text>
<rect x="405.8" y="520.8" width="65.6" height="6" fill="#5c0aa0"/>
<text x="407.5" y="530" font-family="Liberation Sans, sans-serif" font-size="9.8" fill="#e8e0f0">2021-07-02</text>
<rect x="462.5" y="522.8" width="5.3" height="4" fill="#e03030"/>
</svg>
</body></html>
